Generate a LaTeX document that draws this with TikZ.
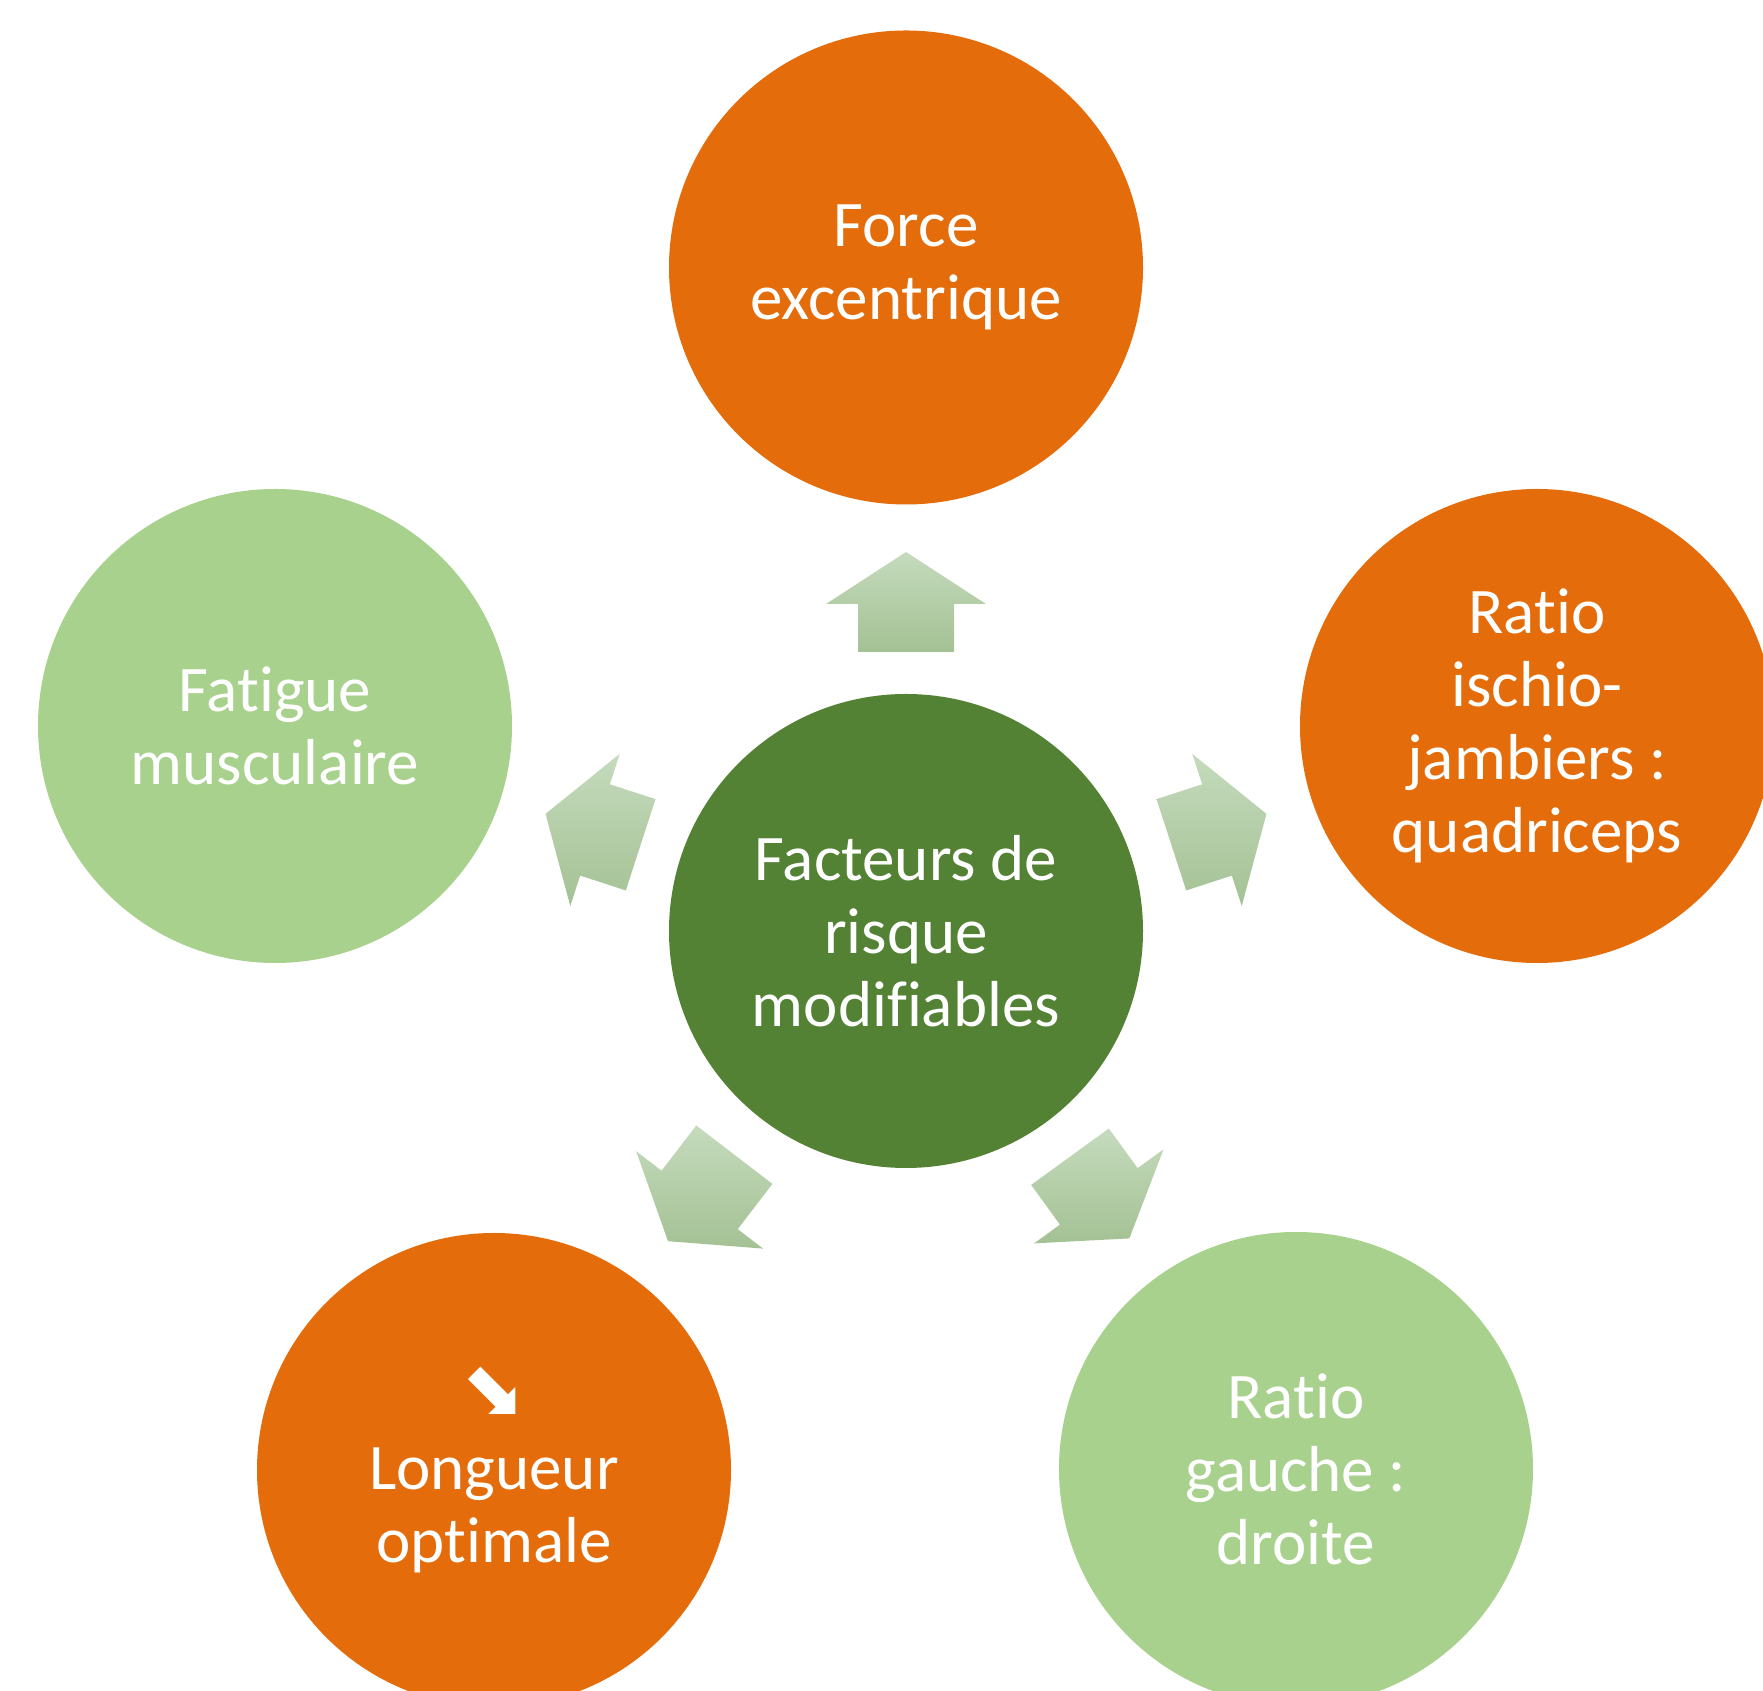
\documentclass[tikz,border=0pt]{standalone}
\usepackage{fontspec}
\setmainfont{Carlito}[Ligatures=NoCommon]
\newfontfamily\symbfont{DejaVu Sans}
\usetikzlibrary{calc}
\usepackage{xcolor}

\definecolor{orangefill}{HTML}{E46C0A}
\definecolor{darkgreen}{HTML}{548235}
\definecolor{lightgreen}{HTML}{A9D18E}
\definecolor{arrowtop}{HTML}{C5DBBD}
\definecolor{arrowbottom}{HTML}{A4C194}

\tikzset{
  factor/.style={circle, minimum size=4.74cm, inner sep=0pt, text=white, align=center,
    font=\fontsize{18.5}{20.8}\selectfont},
  orangefactor/.style={factor, fill=orangefill},
  greenfactor/.style={factor, fill=lightgreen},
  arrowfill/.style={top color=arrowtop, bottom color=arrowbottom}
}

\begin{document}
\begin{tikzpicture}
\useasboundingbox (0,0) rectangle (17.63,16.91);
\clip (0,0) rectangle (17.63,16.91);

% centre
\node[factor, fill=darkgreen] (centre) at (9.06,7.60) {Facteurs de\\risque\\modifiables};

% factors
\node[orangefactor] (force) at (9.06,14.235) {Force\\excentrique};
\node[orangefactor] (ratioij) at (15.37,9.65) {Ratio\\ischio-\\jambiers :\\quadriceps};
\node[greenfactor] (ratiogd) at (12.96,2.22) {Ratio\\gauche :\\droite};
\node[orangefactor] (longueur) at (4.94,2.21) {{\symbfont\fontsize{22}{20}\selectfont ⬊}\\Longueur\\optimale};
\node[greenfactor] (fatigue) at (2.75,9.65) {Fatigue\\musculaire};

% arrows
\foreach \a/\s/\t in {90/2.79/3.79, 18/2.79/3.79, 162/2.79/3.79, -54/2.79/3.80, -127.5/2.82/3.91}{
  \pgfmathsetmacro{\hb}{\t-0.52}
  \shade[arrowfill] ($(centre)+(\a:\s)+(\a+90:0.48)$) -- ($(centre)+(\a:\hb)+(\a+90:0.48)$)
    -- ($(centre)+(\a:\hb)+(\a+90:0.80)$) -- ($(centre)+(\a:\t)$)
    -- ($(centre)+(\a:\hb)+(\a-90:0.80)$) -- ($(centre)+(\a:\hb)+(\a-90:0.48)$)
    -- ($(centre)+(\a:\s)+(\a-90:0.48)$) -- cycle;
}

\end{tikzpicture}
\end{document}
